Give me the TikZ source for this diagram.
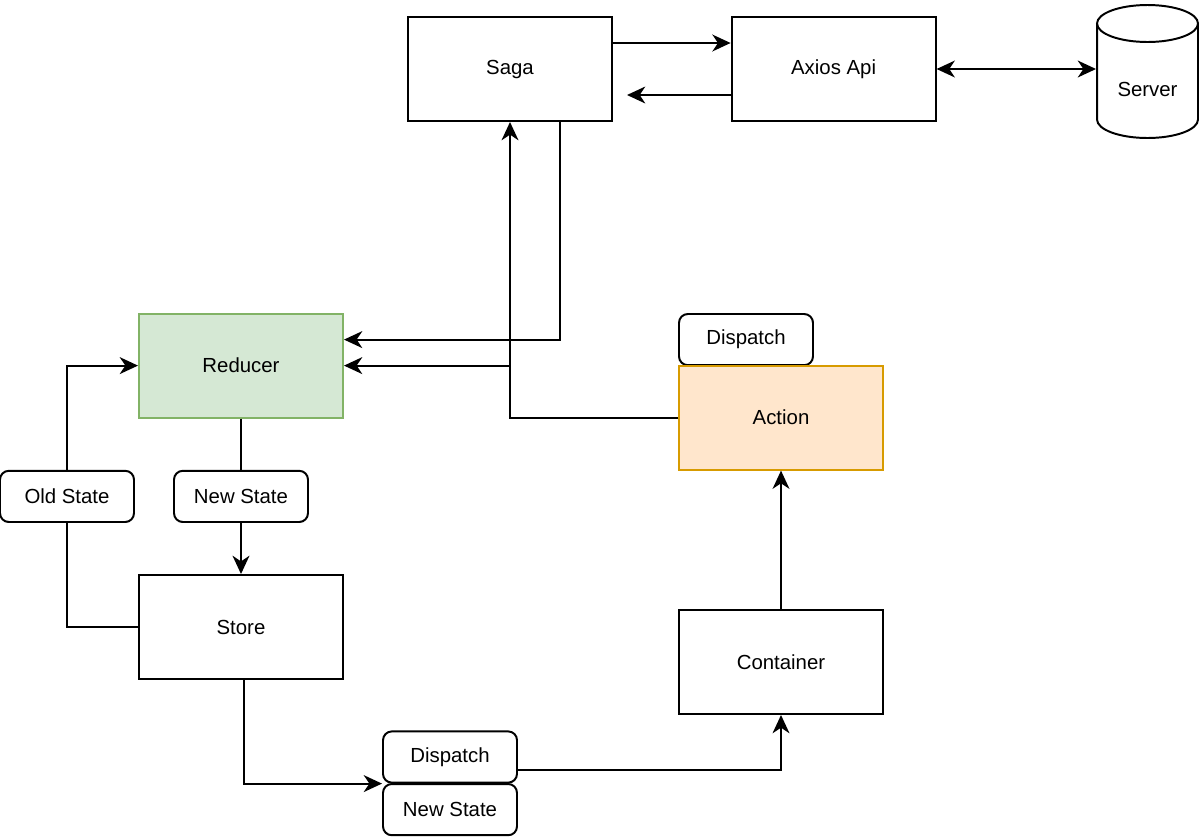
\documentclass[tikz,border=0pt]{standalone}
\usepackage{fontspec}
\setmainfont{Liberation Sans}
\usepackage{xcolor}
\usepackage{tikz}
\usetikzlibrary{arrows.meta,positioning,calc}
\definecolor{redfill}{HTML}{D5E8D4}
\definecolor{redline}{HTML}{82B366}
\definecolor{actfill}{HTML}{FFE6CC}
\definecolor{actline}{HTML}{D79B00}

\begin{document}
\begin{tikzpicture}[line width=1.4pt,font=\fontsize{14.5}{17}\selectfont]
  \tikzstyle{box}=[rectangle,draw,fill=white,minimum width=5.1cm,minimum height=2.6cm]
  \tikzstyle{tag}=[rectangle,draw,fill=white,rounded corners=0.22cm,minimum width=3.35cm,minimum height=1.28cm]
  \tikzstyle{arr}=[-{Stealth[length=13pt,width=12pt,inset=4pt]}]
  \tikzstyle{arrs}=[{Stealth[length=13pt,width=12pt,inset=4pt]}-{Stealth[length=13pt,width=12pt,inset=4pt]}]
  \useasboundingbox (0,0) rectangle (29.975,-20.975);
  \node[box] (saga) at (12.75,-1.725) {Saga};
  \node[box] (axios) at (20.84,-1.725) {Axios Api};
  \node[minimum width=2.525cm,minimum height=3.325cm] (srv) at (28.6875,-1.7875) {};
  \draw (28.6875,-0.5875) ellipse (1.2625 and 0.4625);
  \draw (27.425,-0.5875) -- (27.425,-2.9875) arc[start angle=180,end angle=360,x radius=1.2625,y radius=0.4625] -- (29.95,-0.5875);
  \node (srvtext) at (28.6875,-2.225) {Server};
  \node[box,fill=redfill,draw=redline] (reducer) at (6.025,-9.14) {Reducer};
  \node[tag] (disp1) at (18.65,-8.49) {Dispatch};
  \node[box,fill=actfill,draw=actline] (action) at (19.525,-10.44) {Action};
  \node[box] (container) at (19.525,-16.55) {Container};
  \node[box] (store) at (6.025,-15.675) {Store};
  \node[tag] (oldst) at (1.675,-12.41) {Old State};
  \node[tag] (newst) at (6.025,-12.41) {New State};
  \node[tag] (disp2) at (11.25,-18.925) {Dispatch};
  \node[tag] (newst2) at (11.25,-20.24) {New State};
  \coordinate (sagain) at (15.675,-2.375);
  \draw[arr] ([yshift=0.65cm]saga.east) -- ([yshift=0.65cm]axios.west);
  \draw[arr] ([yshift=-0.65cm]axios.west) -- (sagain);
  \draw[arrs] (axios.east) -- (axios.east -| srv.west);
  \draw[arr] ([xshift=1.25cm]saga.south) |- ([yshift=0.65cm]reducer.east);
  \draw[arr] (action.west) -| (saga.south);
  \draw[arr] (action.west) -- (saga.south |- action.west) -- (saga.south |- reducer.east) -- (reducer.east);
  \draw[arr] (container) -- (action);
  \draw (reducer) -- (newst);
  \draw[arr] (newst) -- (store);
  \draw (store.west) -| (oldst);
  \draw[arr] (oldst) |- (reducer.west);
  \draw[arr] ([xshift=0.075cm]store.south) |- (disp2.south west);
  \draw[arr] ([yshift=-0.325cm]disp2.east) -| (container.south);
\end{tikzpicture}
\end{document}
